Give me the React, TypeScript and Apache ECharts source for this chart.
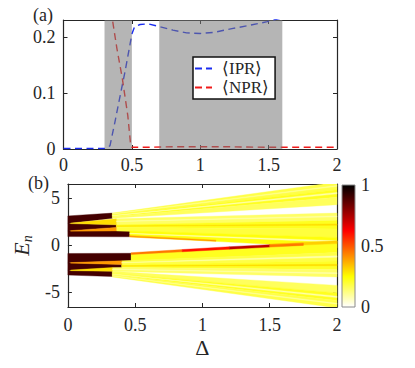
import React, { useEffect, useRef } from 'react';
import * as echarts from 'echarts';

// ---------- data ----------
const xTicks = [0, 0.5, 1, 1.5, 2];
const topYTicks = [0, 0.1, 0.2];
const bottomYTicks = [-5, 0, 5];
const colorbarTicks = [0, 0.5, 1];

const iprDelta = [0, 0.1, 0.2, 0.3, 0.32, 0.34, 0.376, 0.41, 0.45, 0.486, 0.5, 0.52, 0.56, 0.62, 0.69, 0.8, 0.9, 1.0, 1.1, 1.24, 1.35, 1.49, 1.6, 1.8, 2.0];
const iprValues = [0.001, 0.001, 0.001, 0.001, 0.002, 0.006, 0.048, 0.09, 0.138, 0.186, 0.205, 0.218, 0.222, 0.223, 0.219, 0.212, 0.207, 0.206, 0.208, 0.215, 0.22, 0.227, 0.234, 0.246, 0.26];

const nprDelta = [0, 0.3, 0.33, 0.36, 0.39, 0.43, 0.47, 0.49, 0.5, 0.6, 0.8, 1.0, 1.2, 1.5, 1.7, 2.0];
const nprValues = [0.9, 0.8, 0.5, 0.227, 0.18, 0.126, 0.06, 0.01, 0.003, 0.003, 0.004, 0.004, 0.004, 0.003, 0.003, 0.003];

const grayRegions = [
  [0.3, 0.5],
  [0.7, 1.6],
];

// strips: [Δ start, E low, E high, Δ end, E low, E high, IPR]
const darkStubs = [
  [0, 2.3, 3.1, 0.33, 2.85, 3.4, 0.9],
  [0, 1.5, 2.3, 0.36, 1.88, 2.15, 0.9],
  [0, 0.9, 1.5, 0.46, 0.88, 1.5, 0.9],
  [0, -1.9, -0.9, 0.47, -1.68, -0.88, 0.9],
  [0, -2.7, -1.9, 0.4, -2.4, -2.07, 0.9],
  [0, -3.2, -2.7, 0.33, -3.35, -2.8, 0.9],
];

const innerStreaks = [
  [0.02, 2.28, 2.34, 0.36, 2.15, 2.8, 0.3],
  [0.02, 1.48, 1.53, 0.36, 1.5, 1.88, 0.4],
  [0.02, -1.93, -1.87, 0.4, -2.07, -1.68, 0.4],
  [0.02, -2.73, -2.67, 0.33, -2.8, -2.4, 0.3],
];

const lightRays = [
  [0.33, 3.2, 3.4, 2, 5.9, 6.7, 0.18],
  [0.33, 3.02, 3.2, 2, 5.1, 5.9, 0.22],
  [0.33, 2.85, 3.02, 2, 4.3, 5.1, 0.16],
  [0.36, 2.15, 2.8, 2, 2.6, 3.4, 0.15],
  [0.36, 1.88, 2.15, 2, 1.7, 2.6, 0.22],
  [0.36, 1.5, 1.88, 2, 0.8, 1.7, 0.19],
  [0.46, 0.88, 1.5, 2, -0.3, 0.8, 0.24],
  [0.47, -1.68, -0.88, 2, -0.8, 0.3, 0.22],
  [0.4, -2.07, -1.68, 2, -1.7, -0.8, 0.18],
  [0.4, -2.4, -2.07, 2, -2.6, -1.7, 0.21],
  [0.33, -2.8, -2.4, 2, -3.4, -2.6, 0.15],
  [0.33, -3.02, -2.8, 2, -5.1, -4.3, 0.16],
  [0.33, -3.2, -3.02, 2, -5.9, -5.1, 0.22],
  [0.33, -3.4, -3.2, 2, -6.7, -5.9, 0.18],
];

const strands = [
  [0.33, 3.1, 3.14, 2, 5.45, 5.6, 0.08],
  [0.33, 3.3, 3.33, 2, 6.25, 6.35, 0.1],
  [0.36, 2.0, 2.04, 2, 2.1, 2.25, 0.3],
  [0.36, 2.5, 2.53, 2, 3.0, 3.1, 0.08],
  [0.46, 1.2, 1.25, 2, 0.3, 0.45, 0.08],
  [0.4, -1.9, -1.86, 2, -1.3, -1.15, 0.08],
  [0.4, -2.25, -2.2, 2, -2.2, -2.05, 0.3],
  [0.33, -2.6, -2.57, 2, -3.05, -2.95, 0.08],
  [0.33, -3.12, -3.08, 2, -5.6, -5.45, 0.08],
  [0.33, -3.3, -3.27, 2, -6.3, -6.2, 0.1],
  [0.46, 0.86, 1.0, 1.1, 0.4, 0.52, 0.4],
  [1.5, -0.15, 0.1, 2, 0.15, 0.45, 0.32],
];

const redRidge = [
  [0.47, -1.0, -0.82, 0.85, -0.72, -0.48, 0.45],
  [0.85, -0.72, -0.48, 1.2, -0.44, -0.18, 0.6],
  [1.2, -0.44, -0.18, 1.5, -0.22, 0.04, 0.72],
  [1.5, -0.22, 0.04, 1.75, -0.04, 0.2, 0.45],
];

// ---------- helpers ----------
const FONT = 'Liberation Serif';
const AX = '#262626';

function clamp01(v: number) {
  return Math.max(0, Math.min(1, v));
}
// MATLAB flipud(hot)
function hotR(v: number) {
  const t = 1 - clamp01(v);
  const r = clamp01(t / 0.375);
  const g = clamp01((t - 0.375) / 0.375);
  const b = clamp01((t - 0.75) / 0.25);
  return `rgb(${Math.round(r * 255)},${Math.round(g * 255)},${Math.round(b * 255)})`;
}

const zip = (a: number[], b: number[]) => a.map((x, i) => [x, b[i]]);

const stripRender = (_params: any, api: any) => {
  const v = api.value(6);
  const pts = [
    api.coord([api.value(0), api.value(1)]),
    api.coord([api.value(3), api.value(4)]),
    api.coord([api.value(3), api.value(5)]),
    api.coord([api.value(0), api.value(2)]),
  ];
  const c = hotR(v);
  return {
    type: 'polygon',
    shape: { points: pts },
    style: { fill: c, stroke: c, lineWidth: 0.4 },
  };
};

const stripSeries = (data: number[][], z: number) => ({
  type: 'custom',
  xAxisIndex: 2,
  yAxisIndex: 2,
  clip: true,
  silent: true,
  z,
  dimensions: ['d0', 'l0', 'h0', 'd1', 'l1', 'h1', 'v'],
  encode: { x: [0, 3], y: [1, 2, 4, 5] },
  renderItem: stripRender,
  data,
});

const labelStyle = { fontFamily: FONT, fontSize: 18, color: AX };

const makeX = (grid: number, bottom: boolean, extra: any = {}) => ({
  type: 'value',
  gridIndex: grid,
  position: bottom ? 'bottom' : 'top',
  min: 0,
  max: 2,
  interval: 0.5,
  axisLine: { show: true, onZero: false, lineStyle: { color: AX, width: 1.2 } },
  axisTick: { show: true, inside: true, length: 4, lineStyle: { color: AX, width: 1 }, customValues: xTicks },
  axisLabel: bottom ? { ...labelStyle, customValues: xTicks } : { show: false },
  splitLine: { show: false },
  ...extra,
});

const makeY = (grid: number, left: boolean, min: number, max: number, ticks: number[], extra: any = {}) => ({
  type: 'value',
  gridIndex: grid,
  position: left ? 'left' : 'right',
  min,
  max,
  splitNumber: 3,
  axisLine: { show: true, onZero: false, lineStyle: { color: AX, width: 1.2 } },
  axisTick: { show: true, inside: true, length: 4, lineStyle: { color: AX, width: 1 }, customValues: ticks },
  axisLabel: left ? { ...labelStyle, margin: 8, customValues: ticks } : { show: false },
  splitLine: { show: false },
  ...extra,
});

export default function App() {
  const ref = useRef<HTMLDivElement>(null);

  useEffect(() => {
    if (!ref.current) return;
    const chart = echarts.init(ref.current, null, { renderer: 'svg' });

    const cbStops = [0, 0.125, 0.25, 0.375, 0.5, 0.625, 0.75, 0.875, 1].map((o) => ({
      offset: o,
      color: hotR(1 - o),
    }));

    const dashIcon = 'path://M0,0h7v2h-7zM11,0h6v2h-6z';

    const option: any = {
      animation: false,
      backgroundColor: '#fff',
      textStyle: { fontFamily: FONT },
      grid: [
        { left: 63.5, top: 20, width: 273.5, height: 129 },
        { left: 63.5, top: 184, width: 273.5, height: 123 },
        { left: 342, top: 185, width: 13, height: 122 },
      ],
      xAxis: [
        makeX(0, true, { axisLabel: { ...labelStyle, margin: 7, customValues: xTicks } }),
        makeX(0, false),
        makeX(1, true, {
          axisLabel: { ...labelStyle, margin: 9, customValues: xTicks },
          name: 'Δ',
          nameLocation: 'middle',
          nameGap: 29,
          nameTextStyle: { fontFamily: FONT, fontSize: 22, color: AX },
        }),
        makeX(1, false),
        { type: 'value', gridIndex: 2, min: 0, max: 1, show: false },
      ],
      yAxis: [
        makeY(0, true, 0, 0.23, topYTicks),
        makeY(0, false, 0, 0.23, topYTicks),
        makeY(1, true, -6.6, 6.5, bottomYTicks, {
          name: '{e|E}{n|n}',
          nameLocation: 'middle',
          nameGap: 24,
          nameRotate: 90,
          nameTextStyle: {
            color: AX,
            fontFamily: FONT,
            rich: {
              e: { fontFamily: FONT, fontStyle: 'italic', fontSize: 22, color: AX, lineHeight: 22, verticalAlign: 'top' },
              n: { fontFamily: FONT, fontStyle: 'italic', fontSize: 14, color: AX, lineHeight: 14, padding: [12, 0, 0, 0] },
            },
          },
        }),
        makeY(1, false, -6.6, 6.5, bottomYTicks),
        {
          type: 'value',
          gridIndex: 2,
          position: 'right',
          min: 0,
          max: 1,
          interval: 0.5,
          axisLine: { show: false },
          axisTick: { show: false },
          axisLabel: { ...labelStyle, margin: 6, customValues: colorbarTicks },
          splitLine: { show: false },
        },
      ],
      legend: {
        orient: 'vertical',
        left: 193,
        top: 57,
        padding: [3, 6, 3, 2],
        itemWidth: 17,
        itemHeight: 2,
        itemGap: 2,
        icon: dashIcon,
        backgroundColor: '#fff',
        borderColor: '#111',
        borderWidth: 1.5,
        borderRadius: 0,
        textStyle: { fontFamily: FONT, fontSize: 17, color: AX, padding: [0, 0, 0, 5] },
        data: ['⟨IPR⟩', '⟨NPR⟩'],
      },
      graphic: [
        { type: 'text', left: 33, top: 6, style: { text: '(a)', fontFamily: FONT, fontSize: 18, fill: AX } },
        { type: 'text', left: 28, top: 174, style: { text: '(b)', fontFamily: FONT, fontSize: 18, fill: AX } },
      ],
      series: [
        {
          name: '⟨IPR⟩',
          type: 'line',
          xAxisIndex: 0,
          yAxisIndex: 0,
          symbol: 'none',
          clip: true,
          z: 2,
          lineStyle: { color: '#1a2cf0', width: 1.4, type: [7, 4.5] },
          itemStyle: { color: '#1a2cf0' },
          data: zip(iprDelta, iprValues),
        },
        {
          name: '⟨NPR⟩',
          type: 'line',
          xAxisIndex: 0,
          yAxisIndex: 0,
          symbol: 'none',
          clip: true,
          z: 2,
          lineStyle: { color: '#f01a1a', width: 1.4, type: [7, 4.5] },
          itemStyle: { color: '#f01a1a' },
          data: zip(nprDelta, nprValues),
        },
        {
          type: 'custom',
          xAxisIndex: 0,
          yAxisIndex: 0,
          z: 3,
          silent: true,
          encode: { x: [0, 1], y: 2 },
          renderItem: (params: any, api: any) => {
            const cs = params.coordSys;
            const x0 = api.coord([api.value(0), 0])[0];
            const x1 = api.coord([api.value(1), 0])[0];
            return {
              type: 'rect',
              shape: { x: x0, y: cs.y, width: x1 - x0, height: cs.height },
              style: { fill: 'rgba(120,120,120,0.55)' },
            };
          },
          data: grayRegions.map((r) => [r[0], r[1], 0]),
        },
        stripSeries(darkStubs, 2),
        stripSeries(lightRays, 3),
        stripSeries(innerStreaks, 4),
        stripSeries(strands, 5),
        stripSeries(redRidge, 6),
        {
          type: 'custom',
          xAxisIndex: 4,
          yAxisIndex: 4,
          silent: true,
          encode: { x: 0, y: [1, 2] },
          renderItem: (params: any) => {
            const cs = params.coordSys;
            return {
              type: 'rect',
              shape: { x: cs.x, y: cs.y, width: cs.width, height: cs.height },
              style: {
                fill: new echarts.graphic.LinearGradient(0, 0, 0, 1, cbStops),
                stroke: '#8a8a8a',
                lineWidth: 1,
              },
            };
          },
          data: [[0, 0, 1]],
        },
      ],
    };

    chart.setOption(option);
    return () => chart.dispose();
  }, []);

  return <div ref={ref} style={{ position: 'fixed', left: 0, top: 0, width: 415, height: 368 }} />;
}
